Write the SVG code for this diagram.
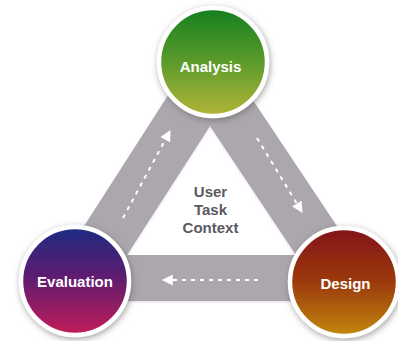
<svg xmlns="http://www.w3.org/2000/svg" width="398" height="341" viewBox="0 0 398 341">
  <style>
    .band { fill: #aca7ac; fill-rule: evenodd; }
    .flow { fill: none; stroke: #ffffff; stroke-width: 2; stroke-dasharray: 4 5; }
    .ring { stroke: #ffffff; stroke-width: 4.5; filter: url(#soft); }
    .label { font-family: "Liberation Sans", Arial, sans-serif; font-weight: bold; font-size: 15px; fill: #ffffff; text-anchor: middle; }
    .core { font-family: "Liberation Sans", Arial, sans-serif; font-weight: bold; font-size: 15px; fill: #5b5a60; text-anchor: middle; }
  </style>
  <defs>
    <filter id="soft" x="-30%" y="-30%" width="160%" height="160%">
      <feDropShadow dx="1" dy="2" stdDeviation="3" flood-color="#555555" flood-opacity="0.55"/>
    </filter>
    <filter id="bandGlow" x="-10%" y="-10%" width="120%" height="120%">
      <feDropShadow dx="0" dy="1" stdDeviation="1.2" flood-color="#c9c2e6" flood-opacity="0.6"/>
    </filter>
    <linearGradient id="gAnalysis" x1="0" y1="0" x2="0" y2="1">
      <stop offset="0" stop-color="#13801f"/>
      <stop offset="0.5" stop-color="#5c9b2c"/>
      <stop offset="1" stop-color="#b2b536"/>
    </linearGradient>
    <linearGradient id="gEvaluation" x1="0" y1="0" x2="0" y2="1">
      <stop offset="0" stop-color="#1b2b84"/>
      <stop offset="0.5" stop-color="#641b6e"/>
      <stop offset="1" stop-color="#c41f58"/>
    </linearGradient>
    <linearGradient id="gDesign" x1="0" y1="0" x2="0" y2="1">
      <stop offset="0" stop-color="#841314"/>
      <stop offset="0.5" stop-color="#9b3a0f"/>
      <stop offset="1" stop-color="#c2880a"/>
    </linearGradient>
    <marker id="tip" viewBox="0 0 10 10" refX="9" refY="5" markerWidth="6.5" markerHeight="5.5" markerUnits="strokeWidth" orient="auto">
      <path d="M0,0 L10,5 L0,10 Z" fill="#ffffff"/>
    </marker>
  </defs>

  <!-- triangular track linking the three stages -->
  <g id="connectors">
    <path class="band" filter="url(#bandGlow)" d="M208,33 L387,301 L36,301 Z M210,126 L127,255 L296,255 Z"/>
    <path class="flow" d="M123,218 L170,131" marker-end="url(#tip)"/>
    <path class="flow" d="M257,138 L302,212" marker-end="url(#tip)"/>
    <path class="flow" d="M258,280 L163,280" marker-end="url(#tip)"/>
  </g>

  <g id="context">
    <text class="core" x="210.5" y="197">User</text>
    <text class="core" x="210.5" y="215">Task</text>
    <text class="core" x="210.5" y="233">Context</text>
  </g>

  <g id="analysis">
    <circle class="ring" cx="213" cy="62" r="54" fill="url(#gAnalysis)"/>
    <text class="label" x="210.5" y="72">Analysis</text>
  </g>

  <g id="evaluation">
    <circle class="ring" cx="75" cy="281" r="54" fill="url(#gEvaluation)"/>
    <text class="label" x="75" y="287">Evaluation</text>
  </g>

  <g id="design">
    <circle class="ring" cx="344" cy="282" r="54" fill="url(#gDesign)"/>
    <text class="label" x="345.5" y="289">Design</text>
  </g>
</svg>
